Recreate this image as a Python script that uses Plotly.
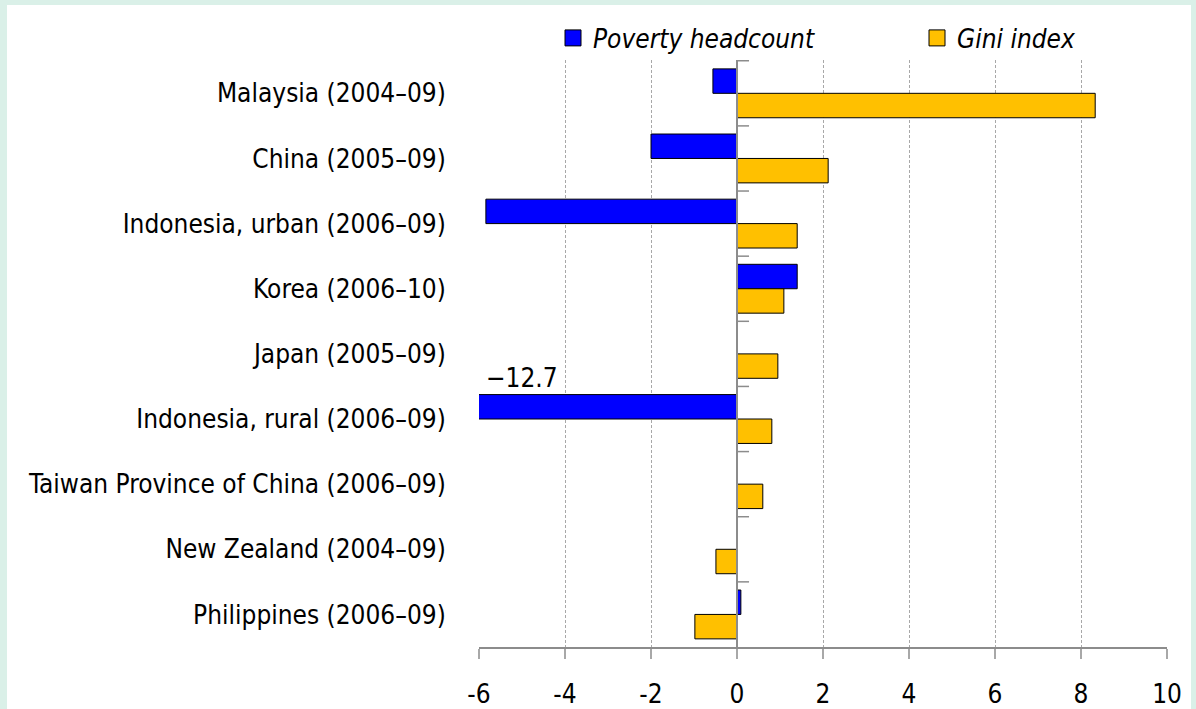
import plotly.graph_objects as go

categories = [
    "Malaysia (2004–09)",
    "China (2005–09)",
    "Indonesia, urban (2006–09)",
    "Korea (2006–10)",
    "Japan (2005–09)",
    "Indonesia, rural (2006–09)",
    "Taiwan Province of China (2006–09)",
    "New Zealand (2004–09)",
    "Philippines (2006–09)",
]
poverty = [-0.56, -2.0, -5.84, 1.40, None, -12.7, None, None, 0.09]
gini = [8.33, 2.12, 1.40, 1.09, 0.95, 0.81, 0.60, -0.49, -0.98]
series_names = ["Poverty headcount", "Gini index"]
series_colors = ["#0000FF", "#FFC000"]
xticks = [-6, -4, -2, 0, 2, 4, 6, 8, 10]
xticklabels = ["-6", "-4", "-2", "0", "2", "4", "6", "8", "10"]
note_text = "−12.7"
note_category = "Indonesia, rural (2006–09)"

FONT = "Liberation Sans Narrow, DejaVu Sans Condensed, Arial Narrow, sans-serif"
W, H = 1196, 709
L, R, T, B = 479, 29, 60, 62
pw, ph = W - L - R, H - T - B

def px2paper_x(px):
    return (px - L) / pw

def px2paper_y(py):
    return (H - B - py) / ph

fig = go.Figure()
for vals, name, col in zip([poverty, gini], series_names, series_colors):
    fig.add_trace(go.Bar(
        y=categories, x=vals, orientation="h", name=name, showlegend=False,
        marker=dict(color=col, line=dict(color="#000000", width=1)),
    ))
# legend entries (one legend box per series, placed like the original)
for i, (name, col) in enumerate(zip(series_names, series_colors)):
    fig.add_trace(go.Scatter(
        x=[None], y=[None], mode="markers", name="<i>%s</i>" % name,
        legend="legend" if i == 0 else "legend2",
        marker=dict(symbol="square", size=16, color=col, line=dict(color="#000000", width=1)),
    ))

shapes = [
    dict(type="rect", xref="paper", yref="paper",
         x0=px2paper_x(7), x1=px2paper_x(1191), y0=px2paper_y(712), y1=px2paper_y(5),
         fillcolor="white", line=dict(width=0), layer="below"),
    dict(type="line", xref="x", yref="paper", x0=0, x1=0, y0=0, y1=1,
         line=dict(color="#8c8c8c", width=2), layer="above"),
]
for i in range(len(categories)):
    shapes.append(dict(type="line", xref="x", yref="y", x0=0, x1=0.28,
                       y0=i - 0.5, y1=i - 0.5,
                       line=dict(color="#8c8c8c", width=1.5)))

legend_common = dict(orientation="h", xanchor="left", yanchor="middle",
                     font=dict(family=FONT, size=26), bgcolor="rgba(0,0,0,0)",
                     itemwidth=30)

fig.update_layout(
    width=W, height=H,
    margin=dict(l=L, r=R, t=T, b=B, pad=0, autoexpand=False),
    paper_bgcolor="#DAF0E8",
    plot_bgcolor="white",
    barmode="group",
    bargap=0.25,
    bargroupgap=0,
    font=dict(family=FONT, size=26, color="#000000"),
    showlegend=True,
    legend=dict(x=px2paper_x(553), y=px2paper_y(38), **legend_common),
    legend2=dict(x=px2paper_x(917), y=px2paper_y(38), **legend_common),
    shapes=shapes,
    annotations=[dict(x=-6, y=note_category, xref="x", yref="y", text=note_text,
                      showarrow=False, xanchor="left", yanchor="middle",
                      xshift=5, yshift=41, font=dict(family=FONT, size=26))],
    xaxis=dict(range=[-6, 10], tickvals=xticks, ticktext=xticklabels,
               showgrid=True, gridcolor="#a8a8a8", griddash="3px,2px", gridwidth=1,
               zeroline=False, showline=True, linecolor="#8c8c8c", linewidth=2,
               ticks="outside", ticklen=10, tickcolor="#a8a8a8", tickwidth=2,
               ticklabelstandoff=13, fixedrange=True),
    yaxis=dict(autorange="reversed", showgrid=False, zeroline=False, showline=False,
               ticks="outside", ticklen=27, tickcolor="rgba(0,0,0,0)",
               fixedrange=True),
)

fig.write_html(
    "out.html",
    config={"displayModeBar": False},
    post_script="document.body.style.margin='0';document.body.style.background='#DAF0E8';",
)
